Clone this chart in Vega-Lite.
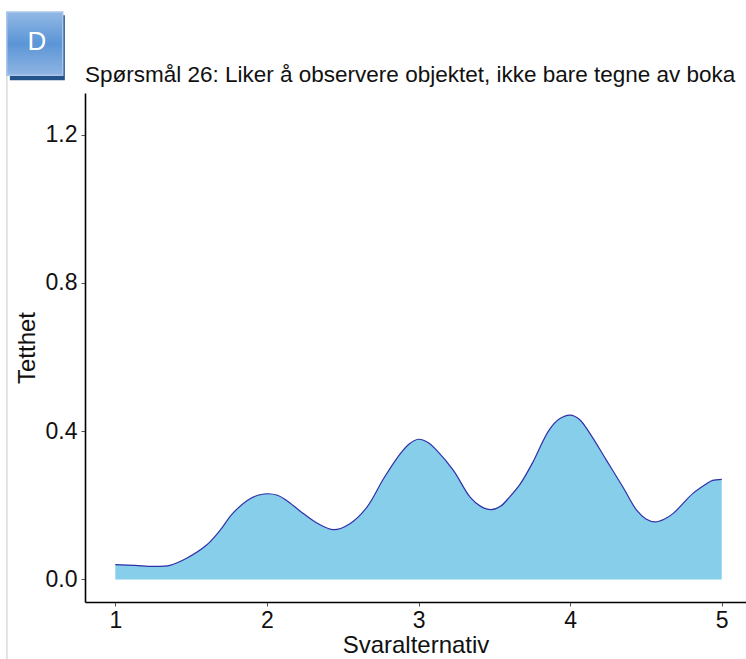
{
  "$schema": "https://vega.github.io/schema/vega-lite/v6.json",
  "autosize": {"type": "none"},
  "width": 661,
  "height": 509,
  "padding": {"left": 85, "top": 93, "right": 0, "bottom": 57},
  "background": "white",
  "data": {
    "values": [
      {"svar": 1.00, "tetthet": 0.040},
      {"svar": 1.13, "tetthet": 0.038},
      {"svar": 1.25, "tetthet": 0.035},
      {"svar": 1.36, "tetthet": 0.038},
      {"svar": 1.47, "tetthet": 0.057},
      {"svar": 1.60, "tetthet": 0.092},
      {"svar": 1.69, "tetthet": 0.132},
      {"svar": 1.77, "tetthet": 0.176},
      {"svar": 1.87, "tetthet": 0.213},
      {"svar": 1.94, "tetthet": 0.227},
      {"svar": 2.00, "tetthet": 0.231},
      {"svar": 2.07, "tetthet": 0.227},
      {"svar": 2.13, "tetthet": 0.213},
      {"svar": 2.22, "tetthet": 0.184},
      {"svar": 2.33, "tetthet": 0.152},
      {"svar": 2.44, "tetthet": 0.134},
      {"svar": 2.55, "tetthet": 0.151},
      {"svar": 2.66, "tetthet": 0.195},
      {"svar": 2.77, "tetthet": 0.272},
      {"svar": 2.88, "tetthet": 0.339},
      {"svar": 2.94, "tetthet": 0.366},
      {"svar": 3.00, "tetthet": 0.378},
      {"svar": 3.06, "tetthet": 0.370},
      {"svar": 3.12, "tetthet": 0.348},
      {"svar": 3.23, "tetthet": 0.294},
      {"svar": 3.34, "tetthet": 0.222},
      {"svar": 3.41, "tetthet": 0.197},
      {"svar": 3.48, "tetthet": 0.188},
      {"svar": 3.54, "tetthet": 0.197},
      {"svar": 3.60, "tetthet": 0.222},
      {"svar": 3.67, "tetthet": 0.257},
      {"svar": 3.75, "tetthet": 0.313},
      {"svar": 3.86, "tetthet": 0.402},
      {"svar": 3.93, "tetthet": 0.433},
      {"svar": 4.00, "tetthet": 0.443},
      {"svar": 4.06, "tetthet": 0.432},
      {"svar": 4.13, "tetthet": 0.394},
      {"svar": 4.24, "tetthet": 0.321},
      {"svar": 4.35, "tetthet": 0.248},
      {"svar": 4.44, "tetthet": 0.186},
      {"svar": 4.50, "tetthet": 0.163},
      {"svar": 4.56, "tetthet": 0.155},
      {"svar": 4.62, "tetthet": 0.162},
      {"svar": 4.68, "tetthet": 0.178},
      {"svar": 4.81, "tetthet": 0.232},
      {"svar": 4.90, "tetthet": 0.258},
      {"svar": 4.94, "tetthet": 0.267},
      {"svar": 5.00, "tetthet": 0.270}
    ]
  },
  "layer": [
    {
      "mark": {"type": "area", "interpolate": "catmull-rom", "color": "#87CEEB", "opacity": 1},
      "encoding": {
        "x": {
          "field": "svar",
          "type": "quantitative",
          "scale": {"domain": [0.8, 5.16], "nice": false, "zero": false},
          "axis": {"values": [1, 2, 3, 4, 5], "format": "d", "title": "Svaralternativ"}
        },
        "y": {
          "field": "tetthet",
          "type": "quantitative",
          "scale": {"domain": [-0.061, 1.312], "nice": false, "zero": false},
          "axis": {"values": [0, 0.4, 0.8, 1.2], "format": ".1f", "title": "Tetthet"}
        }
      }
    },
    {
      "mark": {"type": "line", "interpolate": "catmull-rom", "color": "#2f2fa8", "strokeWidth": 1.2},
      "encoding": {
        "x": {"field": "svar", "type": "quantitative", "title": "Svaralternativ"},
        "y": {"field": "tetthet", "type": "quantitative", "title": "Tetthet"}
      }
    },
    {
      "data": {"values": [{}]},
      "mark": {"type": "rule", "color": "#c8c8c8", "strokeWidth": 1},
      "encoding": {
        "x": {"datum": 0.285, "type": "quantitative", "title": "Svaralternativ"},
        "y": {"datum": 1.36, "type": "quantitative", "title": "Tetthet"},
        "y2": {"datum": -0.22}
      }
    },
    {
      "data": {"values": [{}]},
      "mark": {"type": "rect", "color": "#24528a", "opacity": 1},
      "encoding": {
        "x": {"datum": 0.3045, "type": "quantitative", "title": "Svaralternativ"},
        "x2": {"datum": 0.667},
        "y": {"datum": 1.522, "type": "quantitative", "title": "Tetthet"},
        "y2": {"datum": 1.3465}
      }
    },
    {
      "data": {"values": [{}]},
      "mark": {
        "type": "rect",
        "opacity": 1,
        "stroke": "#a9c6ea",
        "strokeWidth": 1.5,
        "fill": {
          "gradient": "linear",
          "x1": 0, "y1": 0, "x2": 0, "y2": 1,
          "stops": [
            {"offset": 0, "color": "#93b9e5"},
            {"offset": 0.5, "color": "#5b95d6"},
            {"offset": 1, "color": "#8fb5e3"}
          ]
        }
      },
      "encoding": {
        "x": {"datum": 0.2841, "type": "quantitative", "title": "Svaralternativ"},
        "x2": {"datum": 0.6533},
        "y": {"datum": 1.5308, "type": "quantitative", "title": "Tetthet"},
        "y2": {"datum": 1.36}
      }
    },
    {
      "data": {"values": [{}]},
      "mark": {"type": "text", "text": "D", "color": "white", "font": "Liberation Sans", "fontSize": 26, "align": "center", "baseline": "middle"},
      "encoding": {
        "x": {"datum": 0.4825, "type": "quantitative", "title": "Svaralternativ"},
        "y": {"datum": 1.449, "type": "quantitative", "title": "Tetthet"}
      }
    },
    {
      "data": {"values": [{}]},
      "mark": {"type": "text", "text": "Spørsmål 26: Liker å observere objektet, ikke bare tegne av boka", "color": "#111111", "font": "Liberation Sans", "fontSize": 22.5, "align": "left", "baseline": "alphabetic"},
      "encoding": {
        "x": {"datum": 0.8, "type": "quantitative", "title": "Svaralternativ"},
        "y": {"datum": 1.341, "type": "quantitative", "title": "Tetthet"}
      }
    }
  ],
  "config": {
    "view": {"stroke": null},
    "axis": {
      "grid": false,
      "domainColor": "#000000",
      "domainWidth": 1.6,
      "tickColor": "#555555",
      "tickSize": 4,
      "tickWidth": 1,
      "labelFont": "Liberation Sans",
      "labelFontSize": 23,
      "labelColor": "#111111",
      "titleFont": "Liberation Sans",
      "titleFontSize": 24,
      "titleFontWeight": "normal",
      "titleColor": "#111111"
    },
    "axisX": {"labelPadding": 3, "titlePadding": 1},
    "axisY": {"labelPadding": 4, "titlePadding": 6}
  }
}
